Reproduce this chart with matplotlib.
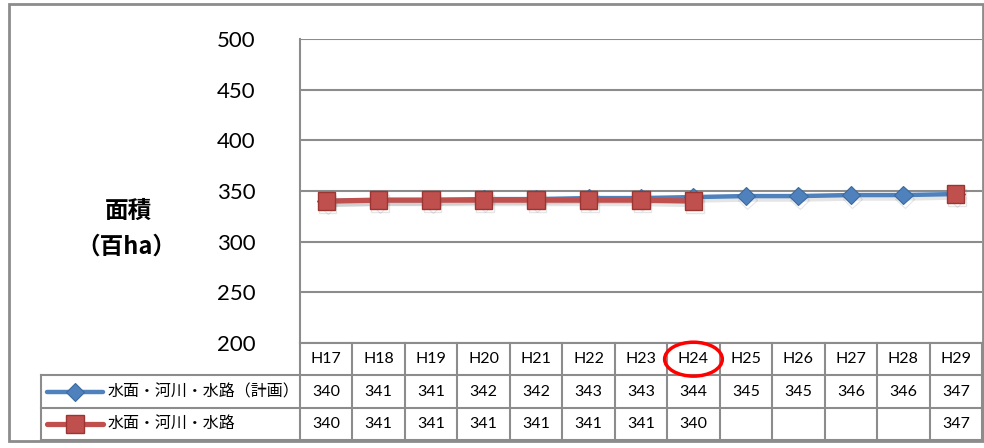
import numpy as np
import matplotlib.pyplot as plt
import matplotlib.patheffects as pe
from matplotlib.patches import Rectangle, Ellipse

plt.rcParams['font.family'] = ['Lato', 'Noto Sans CJK JP', 'DejaVu Sans']

years = ["H17", "H18", "H19", "H20", "H21", "H22", "H23",
         "H24", "H25", "H26", "H27", "H28", "H29"]
plan = [340, 341, 341, 342, 342, 343, 343, 344, 345, 345, 346, 346, 347]
actual = [340, 341, 341, 341, 341, 341, 341, 340, None, None, None, None, 347]
plan_name = "水面・河川・水路（計画）"
actual_name = "水面・河川・水路"

blue = "#4F81BD"
red = "#C0504D"
grid_c = "#8C8C8C"

W, H = 984, 448
fig = plt.figure(figsize=(W / 100, H / 100), dpi=100)


def fx(px):
    return px / W


def fy(py):
    return 1 - py / H


# outer chart frame
fig.patches.append(Rectangle((fx(9), fy(441)), fx(983) - fx(9), fy(4) - fy(441),
                             transform=fig.transFigure, fill=False,
                             edgecolor="#8C8C8C", lw=2))

# plot area
ax = fig.add_axes([fx(300), fy(343), fx(982) - fx(300), fy(39) - fy(343)])
x = np.arange(len(years))
ax.set_xlim(-0.5, len(years) - 0.5)
ax.set_ylim(200, 500)
ax.set_yticks(np.arange(200, 501, 50))
ax.set_xticks([])
ax.tick_params(axis="y", length=0, pad=32, labelsize=16)
ax.grid(axis="y", color=grid_c, lw=1.5)
ax.set_axisbelow(True)
for s in ["top", "right", "bottom"]:
    ax.spines[s].set_visible(False)
ax.spines["left"].set_color(grid_c)
ax.spines["left"].set_linewidth(1.5)

shadow = [pe.SimpleLineShadow(offset=(1, -2.5), shadow_color="gray", alpha=0.2), pe.Normal()]
act = np.array([np.nan if v is None else v for v in actual], dtype=float)
ax.plot(x, plan, color=blue, lw=3.2, marker="D", markersize=9.5,
        markerfacecolor=blue, markeredgecolor="#3A6AA0", markeredgewidth=0.8,
        solid_capstyle="round", path_effects=shadow, zorder=3)
ax.plot(x, act, color=red, lw=3.8, marker="s", markersize=12.5,
        markerfacecolor=red, markeredgecolor="#9A3532", markeredgewidth=1.0,
        path_effects=shadow, zorder=4)

fig.text(fx(128), fy(211), "面積", ha="center", va="center", fontsize=17,
         fontweight="bold", family=["Noto Sans CJK JP"])
fig.text(fx(126), fy(247), "（百ha）", ha="center", va="center", fontsize=17,
         fontweight="bold", family=["Noto Sans CJK JP"])

# data table under the plot
tab = fig.add_axes([fx(41), fy(440), fx(982) - fx(41), fy(343) - fy(440)])
legw = (300 - 41) / ((982 - 300) / len(years))
tab.set_xlim(-0.5 - legw, len(years) - 0.5)
tab.set_ylim(3, 0)
tab.axis("off")

lkw = dict(color=grid_c, lw=1.5, solid_capstyle="projecting", clip_on=False)
x0 = -0.5 - legw
x1 = len(years) - 0.5
tab.plot([-0.5, x1], [0, 0], **lkw)
for r in (1, 2, 3):
    tab.plot([x0, x1], [r, r], **lkw)
tab.plot([x0, x0], [1, 3], **lkw)
for i in range(len(years) + 1):
    tab.plot([i - 0.5, i - 0.5], [0, 3], **lkw)

for i, yr in enumerate(years):
    tab.text(i, 0.5, yr, ha="center", va="center", fontsize=11.5)
    tab.text(i, 1.5, str(plan[i]), ha="center", va="center", fontsize=11.5)
    if actual[i] is not None:
        tab.text(i, 2.5, str(actual[i]), ha="center", va="center", fontsize=11.5)

# legend keys inside the table
k0, k1 = x0 + 0.12, x0 + 1.18
km = (k0 + k1) / 2
tab.plot([k0, k1], [1.5, 1.5], color=blue, lw=3.2, solid_capstyle="round")
tab.plot([km], [1.5], marker="D", markersize=9.5, color=blue,
         markeredgecolor="#3A6AA0", markeredgewidth=0.8)
tab.plot([k0, k1], [2.5, 2.5], color=red, lw=3.8, solid_capstyle="round")
tab.plot([km], [2.5], marker="s", markersize=12.5, color=red,
         markeredgecolor="#9A3532", markeredgewidth=1.0)
tab.text(k1 + 0.08, 1.5, plan_name, ha="left", va="center", fontsize=11.5,
         family=["Noto Sans CJK JP"])
tab.text(k1 + 0.08, 2.5, actual_name, ha="left", va="center", fontsize=11.5,
         family=["Noto Sans CJK JP"])

# highlight the H24 column header
tab.add_patch(Ellipse((years.index("H24"), 0.5), 1.1, 1.05, fill=False,
                      edgecolor="red", lw=2.5, clip_on=False, zorder=6))

fig.savefig("out.png", dpi=100)
